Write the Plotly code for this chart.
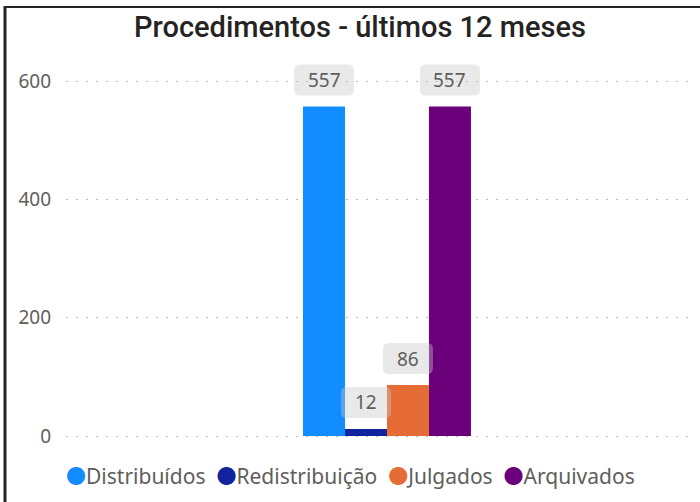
import plotly.graph_objects as go

# ---- data ----
title_text = "Procedimentos - últimos 12 meses"
series_names = ["Distribuídos", "Redistribuição", "Julgados", "Arquivados"]
series_values = [557, 12, 86, 557]
series_colors = ["#118DFF", "#12239E", "#E66C37", "#6B007B"]
y_tick_values = [0, 200, 400, 600]
category_x = [0]

# ---- style ----
W, H = 700, 502
ML, MR, MT, MB = 66, 5, 51, 63
ZERO_PX = 436
BARGAP = 0.733
UI_FONT = "Noto Sans, Open Sans, sans-serif"
TXT_GRAY = "#605E5C"
px_per_unit = 355 / 600

fig = go.Figure()
for name, val, col in zip(series_names, series_values, series_colors):
    fig.add_trace(go.Bar(
        x=category_x, y=[val], name=name,
        marker=dict(color=col, line=dict(width=0)),
        showlegend=False, hoverinfo="name+y",
    ))

n = len(series_names)
bar_w = (1 - BARGAP) / n
for i, val in enumerate(series_values):
    xc = category_x[0] + (i - (n - 1) / 2) * bar_w
    label = str(val)
    bw = 10 * len(label) + 30
    bh, gap, r = 31, 11, 6
    x0, x1 = -bw / 2, bw / 2
    y0, y1 = gap, gap + bh
    path = (f"M{x0+r},{y0} L{x1-r},{y0} Q{x1},{y0} {x1},{y0+r} "
            f"L{x1},{y1-r} Q{x1},{y1} {x1-r},{y1} L{x0+r},{y1} "
            f"Q{x0},{y1} {x0},{y1-r} L{x0},{y0+r} Q{x0},{y0} {x0+r},{y0} Z")
    fig.add_shape(type="path", xref="x", yref="y",
                  xsizemode="pixel", ysizemode="pixel",
                  xanchor=xc, yanchor=val, path=path,
                  fillcolor="rgba(200,200,200,0.4)", line=dict(width=0),
                  layer="above")
    fig.add_annotation(x=xc, y=val, text=label, showarrow=False,
                       yshift=gap + bh / 2, yanchor="middle", xanchor="center",
                       font=dict(family=UI_FONT, size=19, color=TXT_GRAY))

# legend as a text line of coloured dots + names
legend_html = "&nbsp;&nbsp;".join(
    f"<span style='color:{c};font-family:Noto Sans CJK JP;font-size:20px'>●</span>{nm}"
    for nm, c in zip(series_names, series_colors)
)
fig.add_annotation(xref="paper", yref="paper", x=0, y=0, xanchor="left",
                   yanchor="middle", yshift=-(475 - (H - MB)),
                   xshift=-2, showarrow=False,
                   text=legend_html,
                   font=dict(family=UI_FONT, size=21, color=TXT_GRAY))

# frame lines (left + top)
fig.add_shape(type="line", xref="paper", yref="paper",
              xsizemode="pixel", ysizemode="pixel", xanchor=0, yanchor=0,
              x0=5 - ML, x1=5 - ML, y0=-MB, y1=(H - MB) - 6,
              line=dict(color="#252423", width=3))
fig.add_shape(type="line", xref="paper", yref="paper",
              xsizemode="pixel", ysizemode="pixel", xanchor=0, yanchor=0,
              x0=4 - ML, x1=W - ML, y0=(H - MB) - 7, y1=(H - MB) - 7,
              line=dict(color="#252423", width=2))

y_min = -(H - MB - ZERO_PX) / px_per_unit
y_max = (ZERO_PX - MT) / px_per_unit
fig.update_layout(
    width=W, height=H,
    margin=dict(l=ML, r=MR, t=MT, b=MB),
    paper_bgcolor="white", plot_bgcolor="white",
    barmode="group", bargap=BARGAP, bargroupgap=0,
    title=dict(text=title_text, x=360 / W, xref="container", xanchor="center",
               y=1 - 27 / H, yref="container", yanchor="middle",
               font=dict(family="Roboto, sans-serif", size=29, weight=500,
                         color="#252423")),
    xaxis=dict(range=[-0.5103, 0.4897], showticklabels=False, showgrid=False,
               zeroline=False, showline=False, fixedrange=True),
    yaxis=dict(range=[y_min, y_max], tickvals=y_tick_values,
               showgrid=True, gridcolor="#BDBDBD", griddash="2px,8px", gridwidth=1,
               zeroline=False, showline=False, ticks="", ticklabelstandoff=14,
               tickfont=dict(family=UI_FONT, size=19, color=TXT_GRAY),
               fixedrange=True),
    showlegend=False,
)

fig.write_html("out.html")
